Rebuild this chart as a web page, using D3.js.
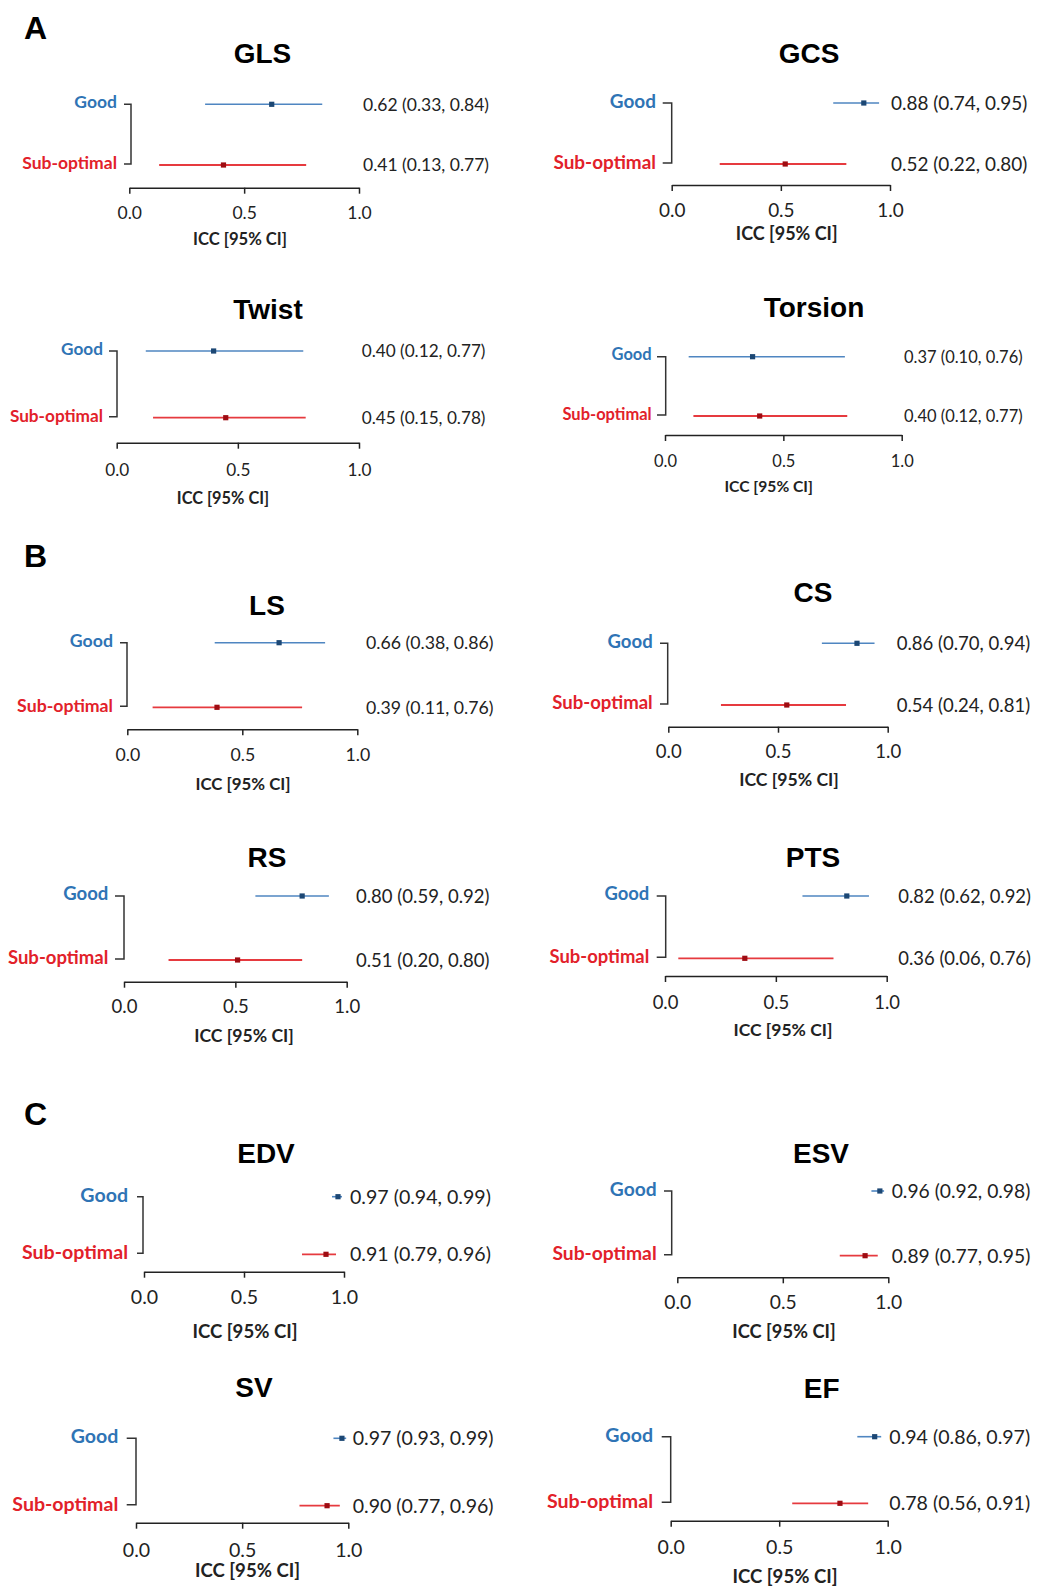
<!DOCTYPE html>
<html>
<head>
<meta charset="utf-8">
<script src="https://cdn.jsdelivr.net/npm/d3@7"></script>
<style>
  html, body { margin: 0; padding: 0; background: #fff; }
  svg { display: block; }
</style>
</head>
<body>
<svg id="fig" width="1037" height="1588"></svg>
<script>
// ICC agreement per strain / volume metric, grouped by image quality
const metrics     = ["GLS", "GCS", "Twist", "Torsion", "LS", "CS", "RS", "PTS", "EDV", "ESV", "SV", "EF"];
const goodICC     = [0.62, 0.88, 0.40, 0.37, 0.66, 0.86, 0.80, 0.82, 0.97, 0.96, 0.97, 0.94];
const goodLower   = [0.33, 0.74, 0.12, 0.10, 0.38, 0.70, 0.59, 0.62, 0.94, 0.92, 0.93, 0.86];
const goodUpper   = [0.84, 0.95, 0.77, 0.76, 0.86, 0.94, 0.92, 0.92, 0.99, 0.98, 0.99, 0.97];
const subICC      = [0.41, 0.52, 0.45, 0.40, 0.39, 0.54, 0.51, 0.36, 0.91, 0.89, 0.90, 0.78];
const subLower    = [0.13, 0.22, 0.15, 0.12, 0.11, 0.24, 0.20, 0.06, 0.79, 0.77, 0.77, 0.56];
const subUpper    = [0.77, 0.80, 0.78, 0.77, 0.76, 0.81, 0.80, 0.76, 0.96, 0.95, 0.96, 0.91];
const groupLabels = ["Good", "Sub-optimal"];
const tickValues  = [0, 0.5, 1.0];
const axisTitle   = "ICC [95% CI]";
const sectionLabels = ["A", "B", "C"];

// Panel geometry (pixels): title, rows, axis extent, bracket, label columns
const layout = [
  {tx: 262.5, ty: 63.3,   yG: 104.3,  yS: 165,    x0: 129.3, x1: 359,   ay: 187.7,  lr: 117,   bl: 124,   br: 131,   vx: 363,   td: 24.8, atx: 240,   aty: 239,    fs: 17},
  {tx: 809,   ty: 63.3,   yG: 103,    yS: 164,    x0: 671.7, x1: 890,   ay: 185,    lr: 656,   bl: 662.7, br: 671.7, vx: 891,   td: 24.7, atx: 786.7, aty: 234,    fs: 18.4},
  {tx: 268,   ty: 319,    yG: 351,    yS: 417.7,  x0: 116.7, x1: 359,   ay: 442.7,  lr: 103,   bl: 109,   br: 117,   vx: 361.7, td: 27,   atx: 223,   aty: 498.3,  fs: 16.7},
  {tx: 814,   ty: 317,    yG: 356.7,  yS: 416,    x0: 665,   x1: 901.7, ay: 435,    lr: 651.7, bl: 657,   br: 665.7, vx: 904,   td: 25.8, atx: 768.7, aty: 486.7,  fs: 16},
  {tx: 267,   ty: 615,    yG: 642.7,  yS: 707.3,  x0: 127.3, x1: 357.3, ay: 729.3,  lr: 113,   bl: 120,   br: 127,   vx: 366,   td: 25.7, atx: 243,   aty: 784,    fs: 17.2},
  {tx: 813,   ty: 601.7,  yG: 643.3,  yS: 705,    x0: 668.3, x1: 887.7, ay: 726.7,  lr: 652.7, bl: 660,   br: 667.7, vx: 896.7, td: 25,   atx: 789,   aty: 780,    fs: 18},
  {tx: 267,   ty: 867,    yG: 896,    yS: 960,    x0: 124,   x1: 346.7, ay: 981.7,  lr: 108.3, bl: 115,   br: 124,   vx: 356,   td: 25,   atx: 244,   aty: 1035.8, fs: 18},
  {tx: 813,   ty: 867,    yG: 896,    yS: 958.3,  x0: 665,   x1: 886.7, ay: 976,    lr: 649.3, bl: 656.7, br: 665.7, vx: 898.3, td: 26.5, atx: 783,   aty: 1030,   fs: 17.9},
  {tx: 266,   ty: 1162.7, yG: 1196.7, yS: 1254.3, x0: 144,   x1: 344,   ay: 1271.7, lr: 128,   bl: 137,   br: 143,   vx: 350,   td: 25,   atx: 245,   aty: 1331.7, fs: 19},
  {tx: 821,   ty: 1163,   yG: 1191,   yS: 1255.7, x0: 677.3, x1: 888.3, ay: 1277.3, lr: 656.7, bl: 664,   br: 671.7, vx: 891.7, td: 24.4, atx: 784,   aty: 1331.7, fs: 18.7},
  {tx: 254,   ty: 1396.7, yG: 1438.3, yS: 1505.7, x0: 136,   x1: 348.3, ay: 1522.7, lr: 118.3, bl: 126.7, br: 136,   vx: 352.7, td: 27.3, atx: 247.5, aty: 1570,   fs: 19},
  {tx: 821.7, ty: 1398,   yG: 1436.7, yS: 1503.3, x0: 670.7, x1: 887.7, ay: 1520.7, lr: 653,   bl: 661.7, br: 670.7, vx: 889.3, td: 26,   atx: 785,   aty: 1576.7, fs: 19}
];
const sectionPos = [{x: 24, y: 39}, {x: 24, y: 566.5}, {x: 24, y: 1125}];
const FONT_SCALE = 1.03;

const BODY_FONT = "Lato, 'Open Sans', sans-serif";
const TITLE_FONT = "'Liberation Sans', Arial, sans-serif";
const colors = {
  goodText: "#2f74b5", goodLine: "#4f86c1", goodPoint: "#1c4774",
  subText: "#e2212a",  subLine: "#e63a3f",  subPoint: "#9e0c12",
  ink: "#222"
};

const svg = d3.select("#fig");
const fmt2 = d3.format(".2f");

svg.selectAll("text.section")
  .data(sectionLabels)
  .join("text")
  .attr("class", "section")
  .attr("x", (d, i) => sectionPos[i].x)
  .attr("y", (d, i) => sectionPos[i].y)
  .attr("font-family", TITLE_FONT)
  .attr("font-weight", "bold")
  .attr("font-size", 32)
  .attr("fill", "#000")
  .text(d => d);

metrics.forEach((name, i) => {
  const L = layout[i];
  const fs = L.fs * FONT_SCALE;
  const g = svg.append("g").attr("class", "panel");
  const x = d3.scaleLinear().domain([0, 1]).range([L.x0, L.x1]);

  const rows = [
    {label: groupLabels[0], y: L.yG, est: goodICC[i], lo: goodLower[i], hi: goodUpper[i],
     text: colors.goodText, line: colors.goodLine, point: colors.goodPoint, sw: 1.6},
    {label: groupLabels[1], y: L.yS, est: subICC[i], lo: subLower[i], hi: subUpper[i],
     text: colors.subText, line: colors.subLine, point: colors.subPoint, sw: 1.8}
  ];

  // Title
  g.append("text")
    .attr("x", L.tx).attr("y", L.ty)
    .attr("text-anchor", "middle")
    .attr("font-family", TITLE_FONT)
    .attr("font-weight", "bold")
    .attr("font-size", 28)
    .attr("fill", "#000")
    .text(name);

  // Bracket joining the two groups
  g.append("path")
    .attr("d", `M${L.bl},${L.yG}H${L.br}V${L.yS - 1}H${L.bl}`)
    .attr("fill", "none")
    .attr("stroke", "#333")
    .attr("stroke-width", 1.5);

  // Group labels
  g.selectAll("text.grp")
    .data(rows)
    .join("text")
    .attr("class", "grp")
    .attr("x", L.lr)
    .attr("y", d => d.y - 2)
    .attr("dy", "0.35em")
    .attr("text-anchor", "end")
    .attr("font-family", BODY_FONT)
    .attr("font-weight", "bold")
    .attr("font-size", fs)
    .attr("fill", d => d.text)
    .text(d => d.label);

  // Confidence intervals
  g.selectAll("line.ci")
    .data(rows)
    .join("line")
    .attr("class", "ci")
    .attr("x1", d => x(d.lo)).attr("x2", d => x(d.hi))
    .attr("y1", d => d.y).attr("y2", d => d.y)
    .attr("stroke", d => d.line)
    .attr("stroke-width", d => d.sw);

  // Point estimates
  g.selectAll("rect.est")
    .data(rows)
    .join("rect")
    .attr("class", "est")
    .attr("x", d => x(d.est) - 2.6)
    .attr("y", d => d.y - 2.6)
    .attr("width", 5.2).attr("height", 5.2)
    .attr("fill", d => d.point);

  // Estimate text
  g.selectAll("text.val")
    .data(rows)
    .join("text")
    .attr("class", "val")
    .attr("x", L.vx)
    .attr("y", d => d.y)
    .attr("dy", "0.36em")
    .attr("font-family", BODY_FONT)
    .attr("font-size", fs)
    .attr("fill", colors.ink)
    .text(d => `${fmt2(d.est)} (${fmt2(d.lo)}, ${fmt2(d.hi)})`);

  // X axis
  const ax = g.append("g")
    .attr("transform", `translate(0,${L.ay})`)
    .call(d3.axisBottom(x)
      .tickValues(tickValues)
      .tickFormat(d3.format(".1f"))
      .tickSize(6)
      .tickSizeOuter(0));
  ax.select(".domain").attr("stroke", "#222").attr("stroke-width", 1.5);
  ax.selectAll(".tick line").attr("stroke", "#222").attr("stroke-width", 1.5);
  ax.selectAll(".tick text")
    .attr("y", L.td)
    .attr("dy", "0.36em")
    .attr("font-family", BODY_FONT)
    .attr("font-size", fs)
    .attr("fill", colors.ink);

  g.append("text")
    .attr("x", L.atx).attr("y", L.aty)
    .attr("dy", "0.36em")
    .attr("text-anchor", "middle")
    .attr("font-family", BODY_FONT)
    .attr("font-weight", "bold")
    .attr("font-size", fs * 0.95)
    .attr("fill", colors.ink)
    .text(axisTitle);
});
</script>
</body>
</html>
